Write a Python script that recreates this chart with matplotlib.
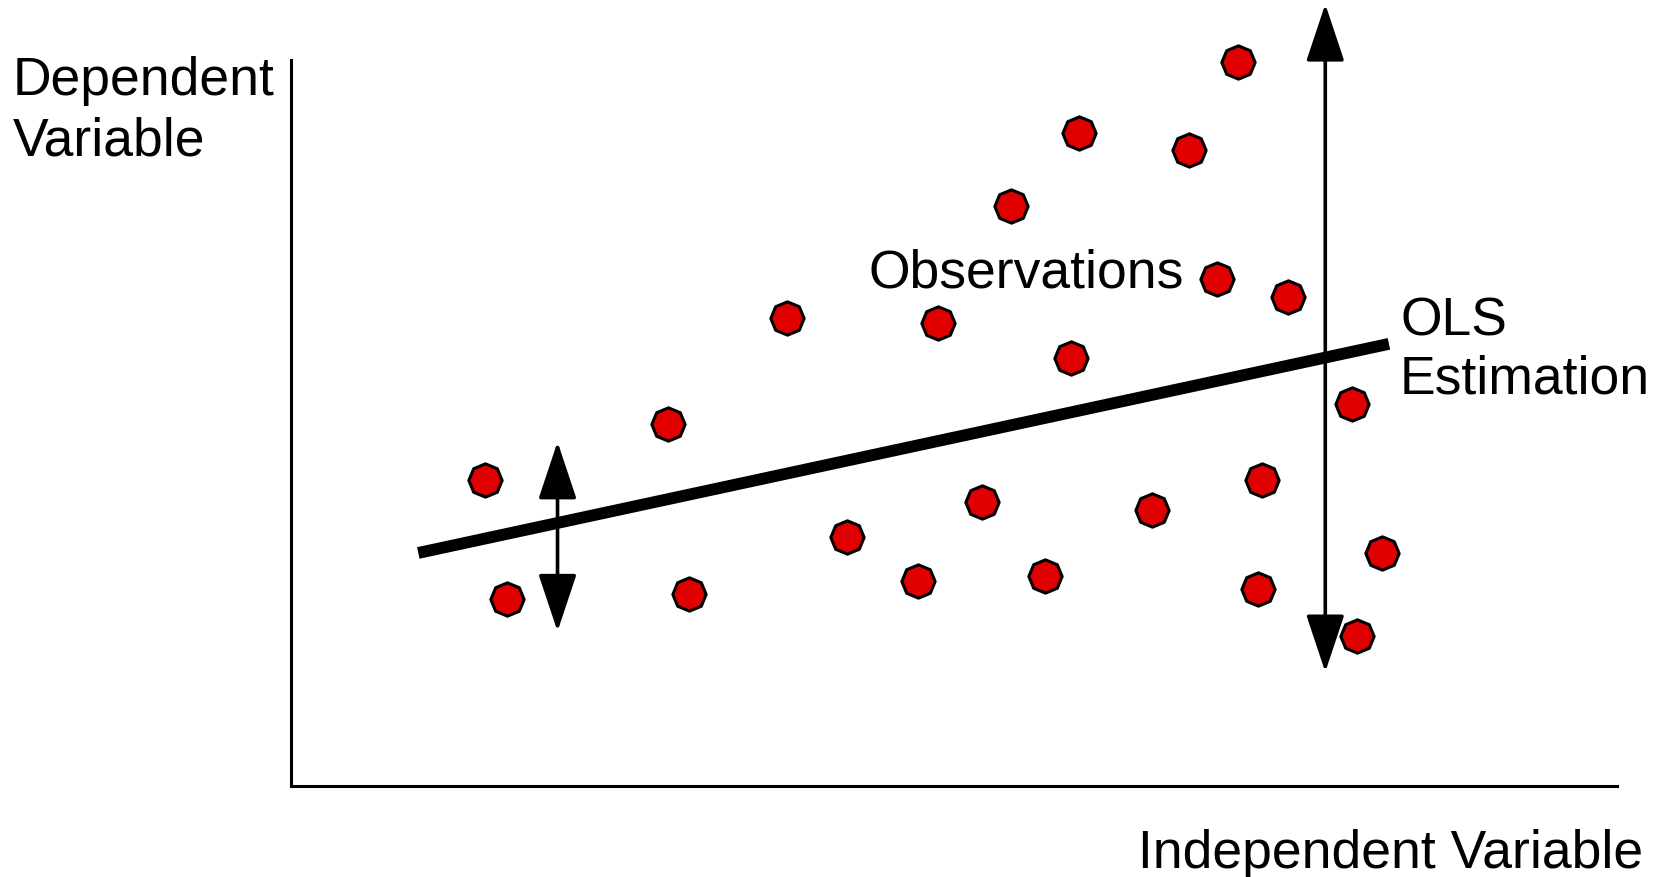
import matplotlib
matplotlib.use("Agg")
import matplotlib.pyplot as plt
import numpy as np

plt.rcParams['font.family'] = ['Liberation Sans', 'DejaVu Sans']

# observations (axis units 0..100)
obs_x = [14.6, 16.3, 28.4, 30.0, 37.4, 41.9, 47.3, 48.8, 52.1, 54.3, 56.9, 58.8,
         59.4, 64.9, 67.7, 69.8, 71.4, 72.9, 73.2, 75.2, 80.0, 80.4, 82.3]
obs_y = [42.2, 25.8, 49.9, 26.4, 64.4, 34.3, 28.3, 63.8, 39.1, 79.9, 28.9, 59.0,
         89.9, 38.0, 87.6, 69.8, 99.7, 27.2, 42.2, 67.4, 52.6, 20.7, 32.1]

# OLS fitted line end points
ols_x = [9.6, 82.8]
ols_y = [32.1, 60.9]

# residual arrows: x, low tip, high tip
arrow_x = [20.1, 78.0]
arrow_lo = [21.3, 15.7]
arrow_hi = [47.4, 107.7]

W, H = 1660, 878
fig = plt.figure(figsize=(W / 100, H / 100), dpi=100)
ax = fig.add_axes([291 / W, 1 - 787 / H, (1617 - 291) / W, (787 - 61) / H])
ax.set_xlim(0, 100)
ax.set_ylim(0, 100)
ax.set_xticks([])
ax.set_yticks([])
for s in ['top', 'right']:
    ax.spines[s].set_visible(False)
for s in ['left', 'bottom']:
    ax.spines[s].set_linewidth(2.2)

ax.plot(ols_x, ols_y, color='black', lw=8.5, solid_capstyle='butt', zorder=2)

for x, lo, hi in zip(arrow_x, arrow_lo, arrow_hi):
    ax.annotate('', xy=(x, hi), xytext=(x, lo), annotation_clip=False,
                arrowprops=dict(arrowstyle='<|-|>,head_length=36,head_width=12',
                                mutation_scale=1, shrinkA=0, shrinkB=0,
                                lw=2.6, color='black'), zorder=3)

ax.scatter(obs_x, obs_y, marker=(8, 0, 0), s=24 ** 2, c='#e10000',
           edgecolors='black', linewidths=2.2, zorder=4, clip_on=False)

fs = 38.5
def label(txt, x, y, ha='left'):
    fig.text(x / W, 1 - y / H, txt, fontsize=fs, ha=ha, va='baseline')

label('Dependent', 13, 95)
label('Variable', 13, 155)
label('Observations', 868, 288)
label('OLS', 1400, 335)
label('Estimation', 1400, 394)
label('Independent Variable', 1643, 868, ha='right')

fig.savefig('out.png', dpi=100)
